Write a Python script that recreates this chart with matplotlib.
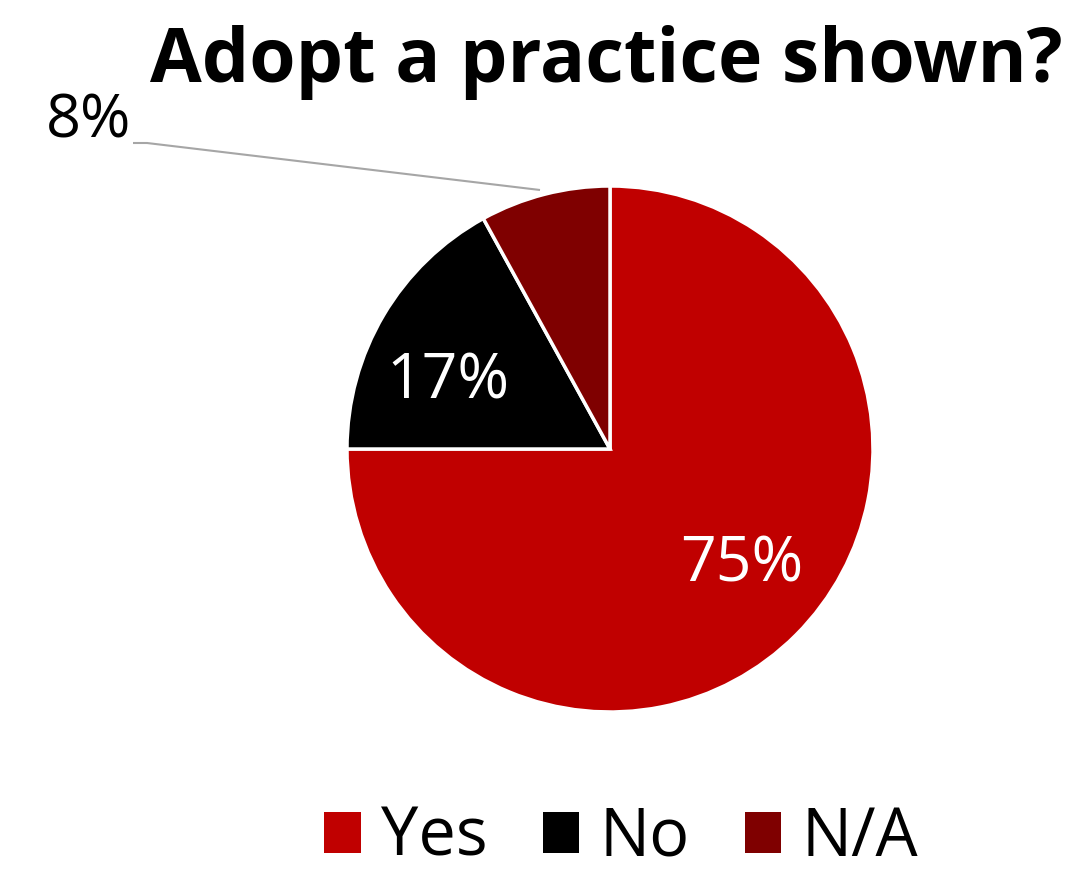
import matplotlib
matplotlib.use("Agg")
import matplotlib.pyplot as plt
from matplotlib.patches import Patch

# survey answers
labels = ["Yes", "No", "N/A"]
shares = [75, 17, 8]
colors = ["#C00000", "#000000", "#7F0000"]
title = "Adopt a practice shown?"

W, H = 1077, 871
fig = plt.figure(figsize=(W / 100, H / 100), dpi=100)
ax = fig.add_axes([0, 0, 1, 1])

cx, cy, r = 610, H - 449, 263
wedges, _ = ax.pie(shares, colors=colors, startangle=90, counterclock=False,
                   center=(cx, cy), radius=r, frame=True,
                   wedgeprops=dict(edgecolor="white", linewidth=2.5))
ax.set_xlim(0, W)
ax.set_ylim(0, H)
ax.set_aspect("equal")
ax.axis("off")

font = "Open Sans"
# in-slice labels
ax.text(742, H - 565, f"{shares[0]}%", color="white", fontsize=45,
        family=font, ha="center", va="center")
ax.text(448, H - 382, f"{shares[1]}%", color="white", fontsize=45,
        family=font, ha="center", va="center")
# outside label with leader line
ax.text(89, H - 122, f"{shares[2]}%", color="black", fontsize=44,
        family=font, ha="center", va="center")
ax.plot([133, 147, 540], [H - 143, H - 143, H - 190], color="#A6A6A6",
        linewidth=1.5, solid_capstyle="butt")

fig.text(606 / W, 1 - 62 / H, title, fontsize=54, fontweight="bold",
         family=font, ha="center", va="center")

handles = [Patch(facecolor=c, edgecolor="none") for c in colors]
fig.legend(handles, labels, loc="center", bbox_to_anchor=(621 / W, 1 - 838 / H),
           ncol=3, frameon=False, prop=dict(family=font, size=48),
           handlelength=0.55, handleheight=0.57, handletextpad=0.3,
           columnspacing=0.83)

fig.savefig("out.png", dpi=100)
